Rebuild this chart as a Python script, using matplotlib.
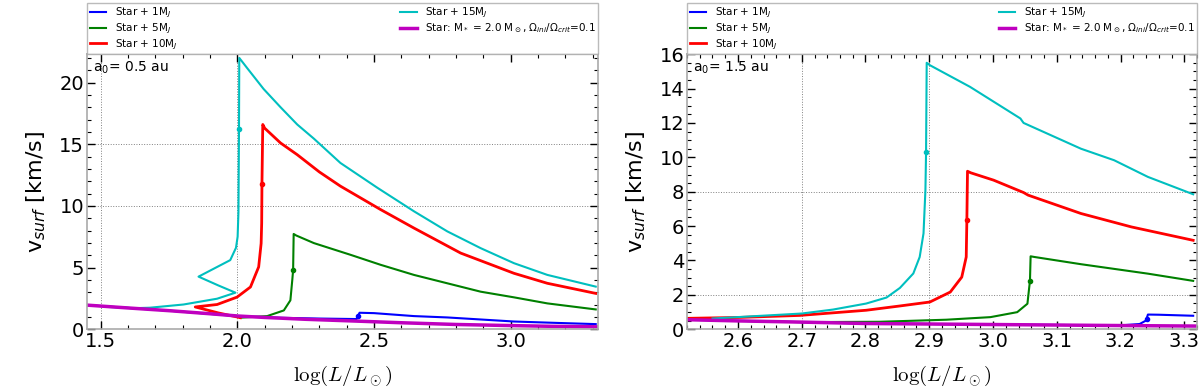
import matplotlib
matplotlib.use("Agg")
import matplotlib.pyplot as plt
from matplotlib.ticker import MultipleLocator

# ---- left panel, a0 = 0.5 au ----
l_star_x = [1.45, 1.60, 1.75, 1.90, 2.00, 2.10, 2.25, 2.44, 2.60, 2.80, 3.00, 3.15, 3.32]
l_star_y = [1.95, 1.72, 1.50, 1.25, 1.07, 0.95, 0.80, 0.65, 0.52, 0.38, 0.29, 0.23, 0.19]

l_1_x = [1.45, 1.75, 2.00, 2.16, 2.30, 2.436, 2.441, 2.447, 2.50, 2.646, 2.768, 3.012, 3.15, 3.311]
l_1_y = [1.95, 1.50, 1.06, 0.92, 0.86, 0.82, 1.05, 1.33, 1.30, 1.06, 0.95, 0.62, 0.52, 0.41]

l_5_x = [2.011, 2.109, 2.170, 2.194, 2.201, 2.204, 2.206, 2.215, 2.280, 2.414, 2.524,
         2.646, 2.768, 2.890, 3.012, 3.134, 3.311]
l_5_y = [0.93, 1.06, 1.52, 2.34, 4.00, 4.78, 7.72, 7.60, 6.98, 6.03, 5.22,
         4.40, 3.72, 3.04, 2.58, 2.09, 1.60]

l_10_x = [2.011, 1.93, 1.846, 1.926, 1.999, 2.048, 2.078, 2.087, 2.089, 2.090, 2.093, 2.10,
          2.158, 2.219, 2.300, 2.377, 2.524, 2.646, 2.817, 3.012, 3.134, 3.311]
l_10_y = [0.93, 1.32, 1.80, 2.00, 2.60, 3.42, 5.05, 6.96, 8.60, 11.8, 16.6, 16.3,
          15.1, 14.15, 12.75, 11.6, 9.70, 8.20, 6.17, 4.53, 3.72, 2.90]

l_15_x = [1.53, 1.62, 1.68, 1.803, 1.926, 1.993, 1.93, 1.858, 1.974, 1.995, 2.001,
          2.004, 2.006, 2.007, 2.035, 2.096, 2.158, 2.219, 2.28, 2.377, 2.512, 2.646,
          2.768, 2.890, 3.012, 3.134, 3.311]
l_15_y = [1.80, 1.70, 1.74, 2.00, 2.47, 2.96, 3.55, 4.26, 5.60, 6.60, 7.50,
          9.50, 16.2, 22.0, 21.2, 19.48, 18.0, 16.6, 15.45, 13.48, 11.47, 9.56,
          7.93, 6.57, 5.35, 4.40, 3.45]

l_mark_x = [2.442, 2.204, 2.090, 2.006]
l_mark_y = [1.10, 4.78, 11.8, 16.2]

# ---- right panel, a0 = 1.5 au ----
r_star_x = [2.52, 2.60, 2.70, 2.80, 2.90, 3.00, 3.10, 3.20, 3.32]
r_star_y = [0.55, 0.48, 0.41, 0.33, 0.30, 0.27, 0.24, 0.21, 0.18]

r_1_x = [2.52, 2.80, 3.00, 3.20, 3.23, 3.240, 3.243, 3.26, 3.314]
r_1_y = [0.55, 0.33, 0.27, 0.22, 0.30, 0.50, 0.85, 0.84, 0.78]

r_5_x = [2.70, 2.822, 2.927, 2.996, 3.038, 3.054, 3.058, 3.059, 3.065, 3.138, 3.243, 3.314]
r_5_y = [0.41, 0.43, 0.55, 0.70, 0.99, 1.48, 2.83, 4.24, 4.20, 3.78, 3.23, 2.81]

r_10_x = [2.52, 2.60, 2.697, 2.801, 2.854, 2.901, 2.933, 2.951, 2.958, 2.959, 2.960,
          2.965, 3.001, 3.048, 3.055, 3.138, 3.217, 3.314]
r_10_y = [0.63, 0.68, 0.80, 1.10, 1.35, 1.58, 2.16, 3.03, 4.20, 6.33, 9.19,
          9.10, 8.67, 7.95, 7.80, 6.73, 5.95, 5.17]

r_15_x = [2.56, 2.628, 2.700, 2.749, 2.801, 2.833, 2.854, 2.875, 2.885, 2.891, 2.894,
          2.895, 2.896, 2.901, 2.964, 3.043, 3.046, 3.048, 3.138, 3.19, 3.243, 3.314]
r_15_y = [0.62, 0.76, 0.91, 1.14, 1.49, 1.84, 2.40, 3.24, 4.20, 5.57, 8.09,
          10.3, 15.5, 15.36, 14.1, 12.26, 12.1, 12.0, 10.5, 9.83, 8.86, 7.85]

r_mark_x = [3.241, 3.058, 2.959, 2.895]
r_mark_y = [0.60, 2.83, 6.33, 10.3]

labels = [r"Star + 1M$_J$", r"Star + 5M$_J$", r"Star + 10M$_J$", r"Star + 15M$_J$",
          r"Star: M$_*$ = 2.0 M$_\odot$, $\Omega_{ini}/\Omega_{crit}$=0.1"]
colors = ["b", "g", "r", "c", "m"]
widths = [1.5, 1.5, 2.0, 1.5, 2.5]

fig = plt.figure(figsize=(12, 3.9), dpi=100)
ax1 = fig.add_axes([0.0725, 0.156, 0.426, 0.705])
ax2 = fig.add_axes([0.5725, 0.156, 0.425, 0.705])

panels = [
    (ax1, [(l_1_x, l_1_y), (l_5_x, l_5_y), (l_10_x, l_10_y), (l_15_x, l_15_y), (l_star_x, l_star_y)],
     l_mark_x, l_mark_y, r"a$_0$= 0.5 au"),
    (ax2, [(r_1_x, r_1_y), (r_5_x, r_5_y), (r_10_x, r_10_y), (r_15_x, r_15_y), (r_star_x, r_star_y)],
     r_mark_x, r_mark_y, r"a$_0$= 1.5 au"),
]

for ax, series, mx, my, note in panels:
    for (xs, ys), c, lw, lab in zip(series, colors, widths, labels):
        ax.plot(xs, ys, color=c, lw=lw, label=lab)
    for x, y, c in zip(mx, my, colors[:4]):
        ax.plot(x, y, "o", color=c, ms=3)
    ax.text(0.012, 0.95, note, transform=ax.transAxes, fontsize=10, va="center", ha="left")
    ax.set_ylabel(r"v$_{surf}$ [km/s]", fontsize=16, labelpad=8)
    ax.set_xlabel(r"$\log(L/L_\odot)$", fontsize=15, math_fontfamily="cm", labelpad=9)
    ax.tick_params(which="both", direction="in", top=True, right=True, labelsize=14, pad=2)
    ax.tick_params(which="major", length=6, width=1)
    ax.tick_params(which="minor", length=3, width=0.8)
    for s in ax.spines.values():
        s.set_color("#aaaaaa")
        s.set_linewidth(1.2)
    leg = ax.legend(bbox_to_anchor=(0, 1.0, 1, 0.18), loc="lower left", mode="expand",
                    ncol=2, borderaxespad=0, fontsize=7.5, fancybox=False,
                    labelspacing=0.12, borderpad=0.25, handlelength=1.6)
    leg.get_frame().set_edgecolor("#aaaaaa")

# left panel axes
ax1.set_xlim(1.45, 3.32)
ax1.set_ylim(0, 22.3)
ax1.xaxis.set_major_locator(MultipleLocator(0.5))
ax1.xaxis.set_minor_locator(MultipleLocator(0.1))
ax1.yaxis.set_major_locator(MultipleLocator(5))
ax1.yaxis.set_minor_locator(MultipleLocator(1))
for v in [10, 15]:
    ax1.axhline(v, color="gray", ls=":", lw=0.7, zorder=0)
for v in [1.5, 2.0]:
    ax1.axvline(v, color="gray", ls=":", lw=0.7, zorder=0)

# right panel axes
ax2.set_xlim(2.52, 3.32)
ax2.set_ylim(0, 16)
ax2.xaxis.set_major_locator(MultipleLocator(0.1))
ax2.xaxis.set_minor_locator(MultipleLocator(0.02))
ax2.yaxis.set_major_locator(MultipleLocator(2))
ax2.yaxis.set_minor_locator(MultipleLocator(0.5))
for v in [2, 8]:
    ax2.axhline(v, color="gray", ls=":", lw=0.7, zorder=0)
for v in [2.7, 2.9]:
    ax2.axvline(v, color="gray", ls=":", lw=0.7, zorder=0)

fig.savefig("out.png", dpi=100)
